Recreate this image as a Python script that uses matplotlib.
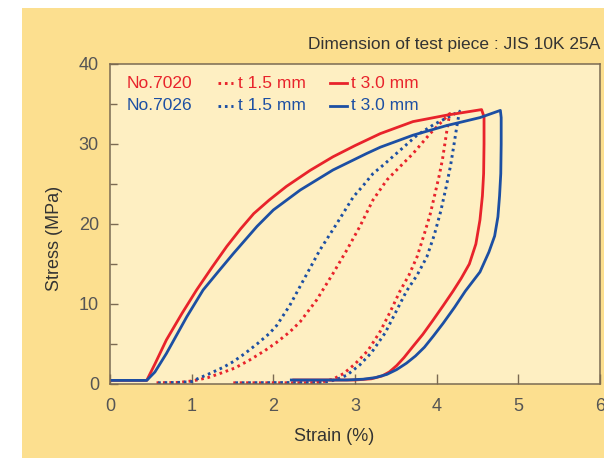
import matplotlib
matplotlib.use("Agg")
from matplotlib import pyplot as plt
from matplotlib.patches import Rectangle

# No.7020 t 3.0 mm (red solid)
red_solid_x = [0.02, 0.45, 0.55, 0.69, 0.88, 1.06, 1.25, 1.43, 1.60, 1.76, 1.95, 2.16, 2.45, 2.73,
               3.00, 3.31, 3.71, 4.12, 4.55, 4.58, 4.58, 4.575, 4.56, 4.53, 4.48, 4.40, 4.30, 4.20,
               4.08, 3.95, 3.83, 3.71, 3.60, 3.51, 3.42, 3.33, 3.20, 3.00, 2.25]
red_solid_y = [0.45, 0.45, 2.5, 5.5, 8.8, 11.75, 14.6, 17.2, 19.4, 21.3, 23.0, 24.7, 26.7, 28.4,
               29.8, 31.3, 32.8, 33.6, 34.3, 33.4, 30.0, 26.3, 23.5, 20.5, 17.5, 15.0, 13.2, 11.6,
               9.8, 7.9, 6.2, 4.7, 3.3, 2.3, 1.5, 1.0, 0.65, 0.5, 0.5]

# No.7026 t 3.0 mm (blue solid)
blue_solid_x = [0.02, 0.45, 0.55, 0.69, 0.94, 1.14, 1.33, 1.51, 1.80, 2.00, 2.33, 2.73, 3.14, 3.31,
                3.71, 4.12, 4.53, 4.78, 4.79, 4.79, 4.785, 4.77, 4.75, 4.71, 4.64, 4.53, 4.44, 4.35,
                4.22, 4.08, 3.96, 3.85, 3.74, 3.63, 3.51, 3.39, 3.25, 3.10, 2.90, 2.22]
blue_solid_y = [0.45, 0.45, 1.5, 3.8, 8.4, 11.75, 14.1, 16.3, 19.7, 21.75, 24.25, 26.75, 28.8, 29.6,
                31.1, 32.3, 33.3, 34.2, 33.3, 30.0, 26.3, 23.5, 20.9, 18.5, 16.5, 14.0, 12.8, 11.6,
                9.6, 7.6, 6.0, 4.6, 3.5, 2.6, 1.8, 1.2, 0.8, 0.6, 0.5, 0.5]

# No.7020 t 1.5 mm (red dotted)
red_dot_x = [0.57, 0.85, 1.02, 1.20, 1.37, 1.53, 1.71, 1.90, 2.04, 2.20, 2.33, 2.53, 2.73, 2.90,
             3.06, 3.22, 3.39, 3.51, 3.71, 3.92, 4.16, 4.13, 4.10, 4.07, 4.03, 3.98, 3.92, 3.85,
             3.76, 3.66, 3.55, 3.43, 3.31, 3.16, 3.00, 2.86, 2.73, 2.60, 2.45, 1.47]
red_dot_y = [0.15, 0.2, 0.4, 0.8, 1.4, 2.0, 3.0, 4.2, 5.2, 6.5, 7.8, 10.5, 13.8, 16.75,
             19.7, 23.0, 25.5, 26.75, 28.8, 31.3, 33.8, 32.0, 30.0, 28.0, 26.0, 23.8, 21.2, 18.8,
             15.9, 13.6, 11.6, 9.0, 6.6, 4.2, 2.5, 1.3, 0.6, 0.25, 0.15, 0.15]

# No.7026 t 1.5 mm (blue dotted)
blue_dot_x = [0.59, 0.85, 1.00, 1.06, 1.22, 1.39, 1.51, 1.65, 1.80, 1.95, 2.04, 2.20, 2.37, 2.57,
              2.78, 2.98, 3.10, 3.22, 3.35, 3.55, 3.76, 3.96, 4.28, 4.25, 4.21, 4.17, 4.12, 4.05,
              3.97, 3.88, 3.76, 3.63, 3.50, 3.37, 3.20, 3.06, 2.90, 2.76, 2.60, 1.50]
blue_dot_y = [0.15, 0.2, 0.3, 0.6, 1.3, 2.1, 2.8, 3.8, 5.0, 6.3, 7.3, 9.8, 13.0, 16.75,
              20.1, 23.4, 24.8, 26.3, 27.4, 29.2, 31.1, 32.4, 34.1, 32.4, 29.8, 27.3, 24.8, 21.6,
              18.6, 15.9, 13.6, 11.6, 9.0, 6.4, 3.9, 2.4, 1.1, 0.5, 0.2, 0.15]

x_ticks = [0, 1, 2, 3, 4, 5, 6]
y_ticks = [0, 10, 20, 30, 40]
y_minor = [5, 15, 25, 35]

RED = "#E8232B"
BLUE = "#1C4FA3"
EDGE = "#7A6A52"
TEXT = "#333333"

fig = plt.figure(figsize=(6.04, 4.58), dpi=100, facecolor="white")
fig.patches.append(Rectangle((22 / 604, 0), 1, 1 - 8 / 458, transform=fig.transFigure,
                             facecolor="#FCDF8F", edgecolor="none", zorder=-10))

ax = fig.add_axes([110 / 604, 1 - 384 / 458, 490 / 604, 320 / 458])
ax.set_facecolor("#FEEFC2")

dots = (0, (0.9, 1.3))
ax.plot(red_dot_x, red_dot_y, color=RED, lw=2.1, linestyle=dots)
ax.plot(blue_dot_x, blue_dot_y, color=BLUE, lw=2.1, linestyle=dots)
ax.plot(red_solid_x, red_solid_y, color=RED, lw=2.0, solid_joinstyle="round")
ax.plot(blue_solid_x, blue_solid_y, color=BLUE, lw=2.0, solid_joinstyle="round")

ax.set_xlim(0, 6)
ax.set_ylim(0, 40)
ax.set_xticks(x_ticks)
ax.set_yticks(y_ticks)
ax.set_yticks(y_minor, minor=True)

tick_font = ["Liberation Sans Narrow", "Liberation Sans", "DejaVu Sans"]
ax.tick_params(axis="both", which="both", direction="in", color=EDGE, width=1.0,
               labelcolor="#555555", labelsize=13)
ax.tick_params(axis="x", which="major", length=7, pad=10)
ax.tick_params(axis="y", which="major", length=6, pad=8)
ax.tick_params(axis="y", which="minor", length=5)
for lab in ax.get_xticklabels() + ax.get_yticklabels():
    lab.set_family(tick_font)

for s in ax.spines.values():
    s.set_color(EDGE)
    s.set_linewidth(1.1)

label_font = ["Liberation Sans", "DejaVu Sans"]
ax.set_xlabel("Strain (%)", fontsize=13, color=TEXT, family=label_font)
ax.set_ylabel("Stress (MPa)", fontsize=13, color=TEXT, family=label_font)
ax.xaxis.set_label_coords(0.457, -0.136)
ax.yaxis.set_label_coords(-0.095, 0.456)

fig.text(600 / 604, 1 - 45 / 458, "Dimension of test piece : JIS 10K 25A", ha="right", va="center",
         fontsize=12.5, color=TEXT, family=label_font)

# legend rows built by hand
rows = [("No.7020", RED, 0.94), ("No.7026", BLUE, 0.869)]
for name, col, yy in rows:
    ax.text(0.034, yy, name, transform=ax.transAxes, color=col, fontsize=12.5,
            va="center", family=label_font)
    ax.plot([0.221, 0.252], [yy, yy], transform=ax.transAxes, color=col, lw=2.1,
            linestyle=dots, clip_on=False)
    ax.text(0.262, yy, "t 1.5 mm", transform=ax.transAxes, color=col, fontsize=12.5,
            va="center", family=label_font)
    ax.plot([0.449, 0.484], [yy, yy], transform=ax.transAxes, color=col, lw=2.0,
            clip_on=False)
    ax.text(0.491, yy, "t 3.0 mm", transform=ax.transAxes, color=col, fontsize=12.5,
            va="center", family=label_font)

fig.savefig("out.png", dpi=100, facecolor=fig.get_facecolor())
